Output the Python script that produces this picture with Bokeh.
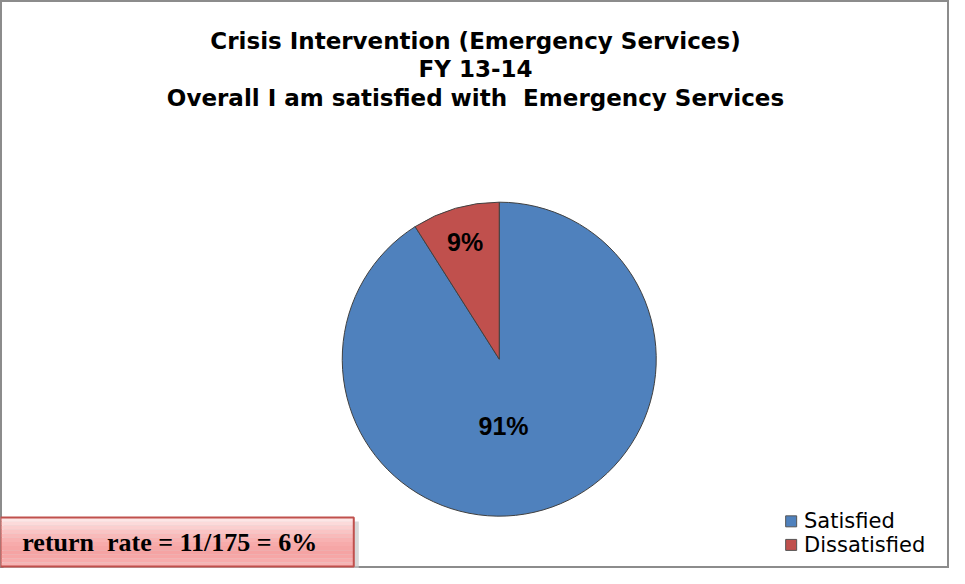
import math
from bokeh.plotting import figure
from bokeh.models import Range1d
from bokeh.core.properties import value
from bokeh.embed import file_html
from bokeh.resources import INLINE

# ---- data ----
categories = ["Satisfied", "Dissatisfied"]
percents = [91, 9]
colors = ["#4F81BD", "#C0504D"]
title_lines = [
    "Crisis Intervention (Emergency Services)",
    "FY 13-14",
    "Overall I am satisfied with \u00a0Emergency Services",
]
note_text = "return\u00a0\u00a0rate = 11/175 = 6%"

W, H = 949, 568
p = figure(width=W, height=H, output_backend="svg", toolbar_location=None,
           x_range=Range1d(0, W), y_range=Range1d(0, H), min_border=0,
           outline_line_color="#8c8c8c", outline_line_width=3)
p.axis.visible = False
p.grid.visible = False
p.background_fill_color = "white"

# layout helpers: reference-frame pixel position -> data coordinates
SX = W / 959.0
SY = H / 578.0
def X(x):
    return (x - 4) * SX
def Y(y):
    return H - (y - 4) * SY

cx, cy, R = X(508), Y(369), 157

# wedges, clockwise from 12 o'clock
total = float(sum(percents))
start = math.pi / 2
mids = []
for cat, val, col in zip(categories, percents, colors):
    span = 2 * math.pi * val / total
    end = start - span
    p.wedge(x=cx, y=cy, radius=R, start_angle=start, end_angle=end,
            direction="clock", fill_color=col, line_color="#404040",
            line_width=1)
    mids.append((start + end) / 2)
    start = end

# percentage labels
label_r = [0.44, 0.78]
nudge = [-15, 0]
lx = [cx + f * R * math.cos(m) + n for f, m, n in zip(label_r, mids, nudge)]
ly = [cy + f * R * math.sin(m) for f, m in zip(label_r, mids)]
p.text(x=lx, y=ly, text=[f"{v}%" for v in percents], text_align="center",
       text_baseline="middle", text_font=value("Liberation Sans"),
       text_font_style="bold", text_font_size="25px", text_color="black")

# title
ty = [Y(45), Y(74), Y(103)]
p.text(x=[X(484)] * 3, y=ty, text=title_lines, text_align="center",
       text_baseline="middle", text_font=value("DejaVu Sans"),
       text_font_style="bold", text_font_size="23px", text_color="black")

# note box with shadow and gradient
x0, x1 = X(4), X(361)
ytop, ybot = Y(530), Y(580)
p.quad(left=x0 + 3, right=x1 + 5, top=ytop - 4, bottom=ybot - 4,
       fill_color="#c8c8c8", line_color=None, fill_alpha=0.7)
grad = ["#fde6e6", "#fcdada", "#fbcfcf", "#fac4c4", "#f9baba", "#f8b2b2",
        "#f7abab", "#f6a6a6", "#f5a3a3", "#f6a6a6", "#f7acac", "#f8b3b3"]
steps = len(grad)
hh = (ytop - ybot) / steps
for i in range(steps):
    p.quad(left=x0, right=x1, top=ytop - i * hh, bottom=ytop - (i + 1) * hh,
           fill_color=grad[i], line_color=None)
p.quad(left=x0, right=x1, top=ytop, bottom=ybot, fill_color=None,
       line_color="#c0504d", line_width=2)
p.text(x=[X(26)], y=[Y(556)], text=[note_text], text_align="left",
       text_baseline="middle", text_font=value("Liberation Serif"),
       text_font_style="bold", text_font_size="26px", text_color="black")

# legend (manual)
leg_y = [Y(534), Y(558)]
p.rect(x=[X(803)] * 2, y=leg_y, width=11, height=11, fill_color=colors,
       line_color="#555555", line_width=1)
p.text(x=[X(816)] * 2, y=leg_y, text=categories, text_align="left",
       text_baseline="middle", text_font=value("DejaVu Sans"),
       text_font_size="21px", text_color="black")

open("out.html", "w").write(file_html(p, INLINE))
